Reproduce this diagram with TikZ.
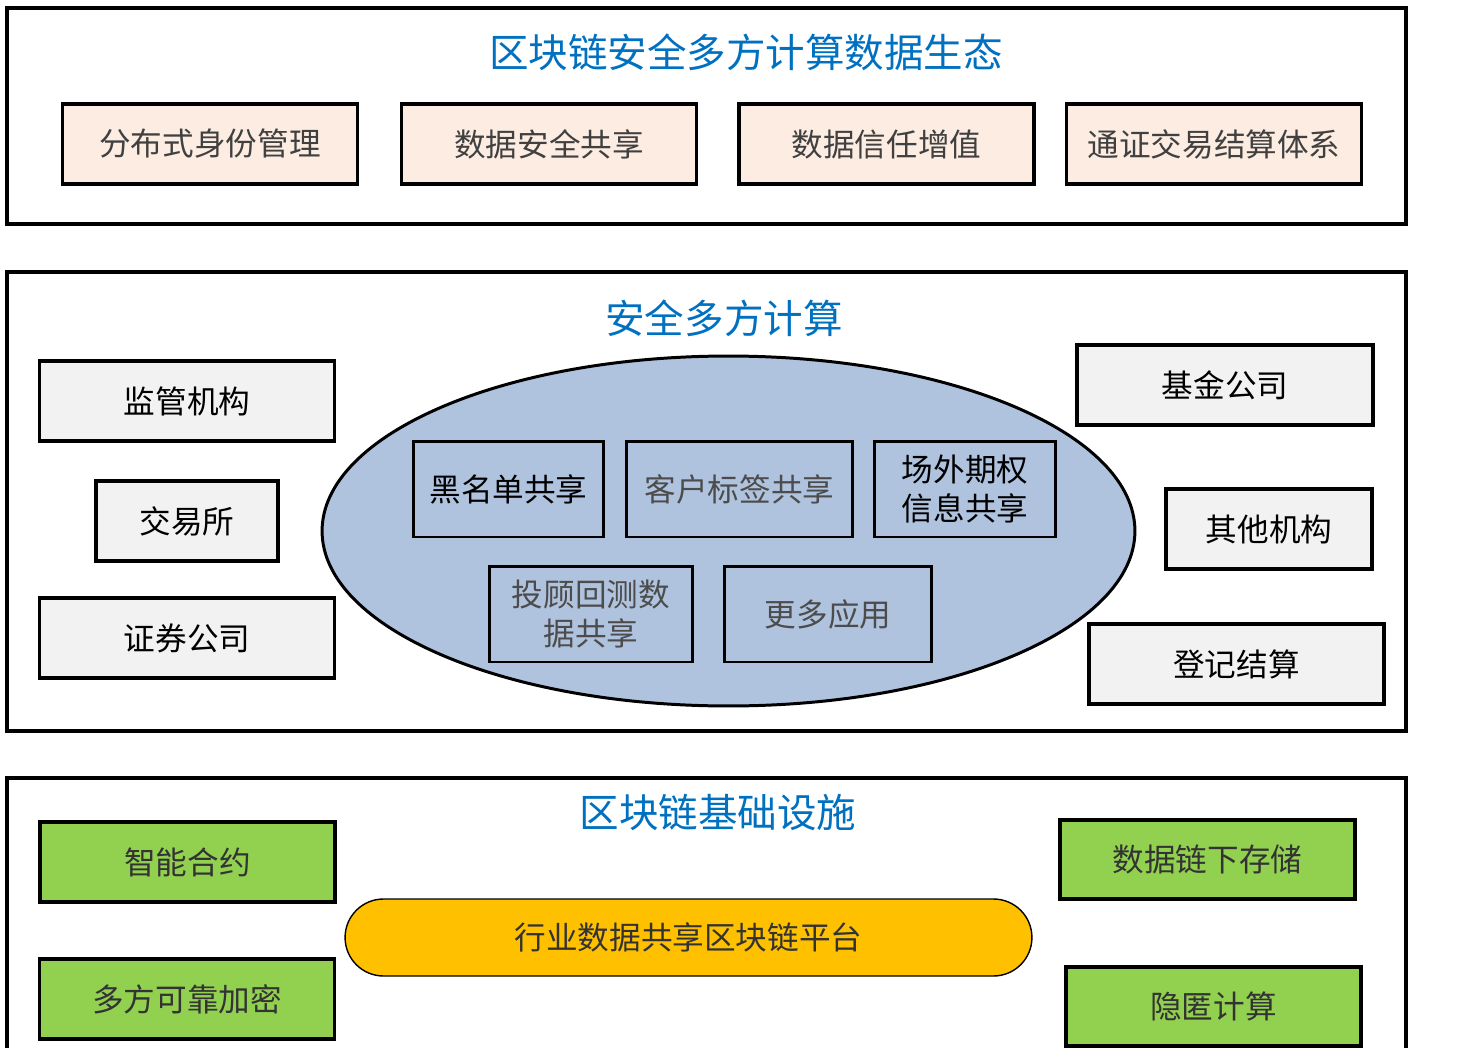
\documentclass[tikz,border=0pt]{standalone}
\usepackage{fontspec}
\setmainfont{Noto Sans CJK SC}
\usetikzlibrary{positioning, shapes.geometric}

\definecolor{titleblue}{RGB}{0,112,192}
\definecolor{peach}{RGB}{252,236,226}
\definecolor{lightgrey}{RGB}{242,242,242}
\definecolor{poolblue}{RGB}{176,195,222}
\definecolor{leafgreen}{RGB}{146,208,80}
\definecolor{amber}{RGB}{255,192,0}

\begin{document}
\begin{tikzpicture}[
    x=0.02cm, y=-0.02cm,
    layer/.style={
        rectangle,
        draw=black,
        line width=2.2pt,
        inner sep=0pt,
        minimum width=27.98cm
    },
    title/.style={text=titleblue, font=\fontsize{22.5}{26}\selectfont},
    box/.style={
        rectangle,
        draw=black,
        line width=2pt,
        inner sep=0pt,
        minimum width=5.9cm,
        minimum height=1.6cm,
        align=center,
        font=\fontsize{18}{22}\selectfont
    },
    goal/.style={box, fill=peach, text=black!75},
    party/.style={box, fill=lightgrey, text=black},
    app/.style={box, line width=1.7pt, fill=poolblue, minimum height=1.92cm},
    infra/.style={box, fill=leafgreen, text=black!80},
    pool/.style={ellipse, draw=black, line width=1.7pt, fill=poolblue,
        inner sep=0pt, minimum width=16.26cm, minimum height=7cm},
    platform/.style={rectangle, draw=black, line width=0.8pt, fill=amber,
        rounded corners=0.77cm, inner sep=0pt, minimum width=13.74cm,
        minimum height=1.54cm, text=black!80, font=\fontsize{18}{22}\selectfont}
]
\useasboundingbox (0,0) rectangle (1458,1048);
\clip (0,0) rectangle (1458,1048);

% === Layer 1: data ecosystem ===
\node[layer, minimum height=4.32cm] (eco) at (706.5,116) {};
\node[title] (ecot) at (746,52) {区块链安全多方计算数据生态};
\node[goal] (did) at (210,144) {分布式身份管理};
\node[goal] (share) at (549,144) {数据安全共享};
\node[goal] (trust) at (886.5,144) {数据信任增值};
\node[goal] (token) at (1214,144) {通证交易结算体系};

% === Layer 2: secure multi-party computation ===
\node[layer, minimum height=9.18cm] (mpc) at (706.5,501.5) {};
\node[title] (mpct) at (724,318) {安全多方计算};
\node[pool] (apps) at (728.5,531) {};
\node[app, minimum width=3.82cm, text=black] (black) at (508.5,489) {黑名单共享};
\node[app, minimum width=4.54cm, text=black!70] (tag) at (739.5,489) {客户标签共享};
\node[app, minimum width=3.64cm, text=black] (otc) at (965,489) {场外期权\\信息共享};
\node[app, minimum width=4.08cm, text=black!70] (advise) at (591,614) {投顾回测数\\据共享};
\node[app, minimum width=4.16cm, text=black!70] (more) at (828,614) {更多应用};
\node[party] (reg) at (187,401) {监管机构};
\node[party, minimum width=3.64cm] (exch) at (187,521) {交易所};
\node[party] (sec) at (187,638) {证券公司};
\node[party, minimum width=5.92cm] (fund) at (1225,385) {基金公司};
\node[party, minimum width=4.12cm] (other) at (1269,529) {其他机构};
\node[party] (clear) at (1236.5,664) {登记结算};

% === Layer 3: blockchain infrastructure ===
\node[layer, minimum height=5.48cm] (infra) at (706.5,915) {};
\node[title] (infrat) at (718,812) {区块链基础设施};
\node[infra] (contract) at (187.5,862) {智能合约};
\node[infra] (crypto) at (187,999) {多方可靠加密};
\node[platform] (chain) at (688.5,937.5) {行业数据共享区块链平台};
\node[infra, minimum height=1.58cm] (store) at (1207.5,859.5) {数据链下存储};
\node[infra, minimum height=1.58cm] (hide) at (1213.5,1006.5) {隐匿计算};

\end{tikzpicture}
\end{document}
